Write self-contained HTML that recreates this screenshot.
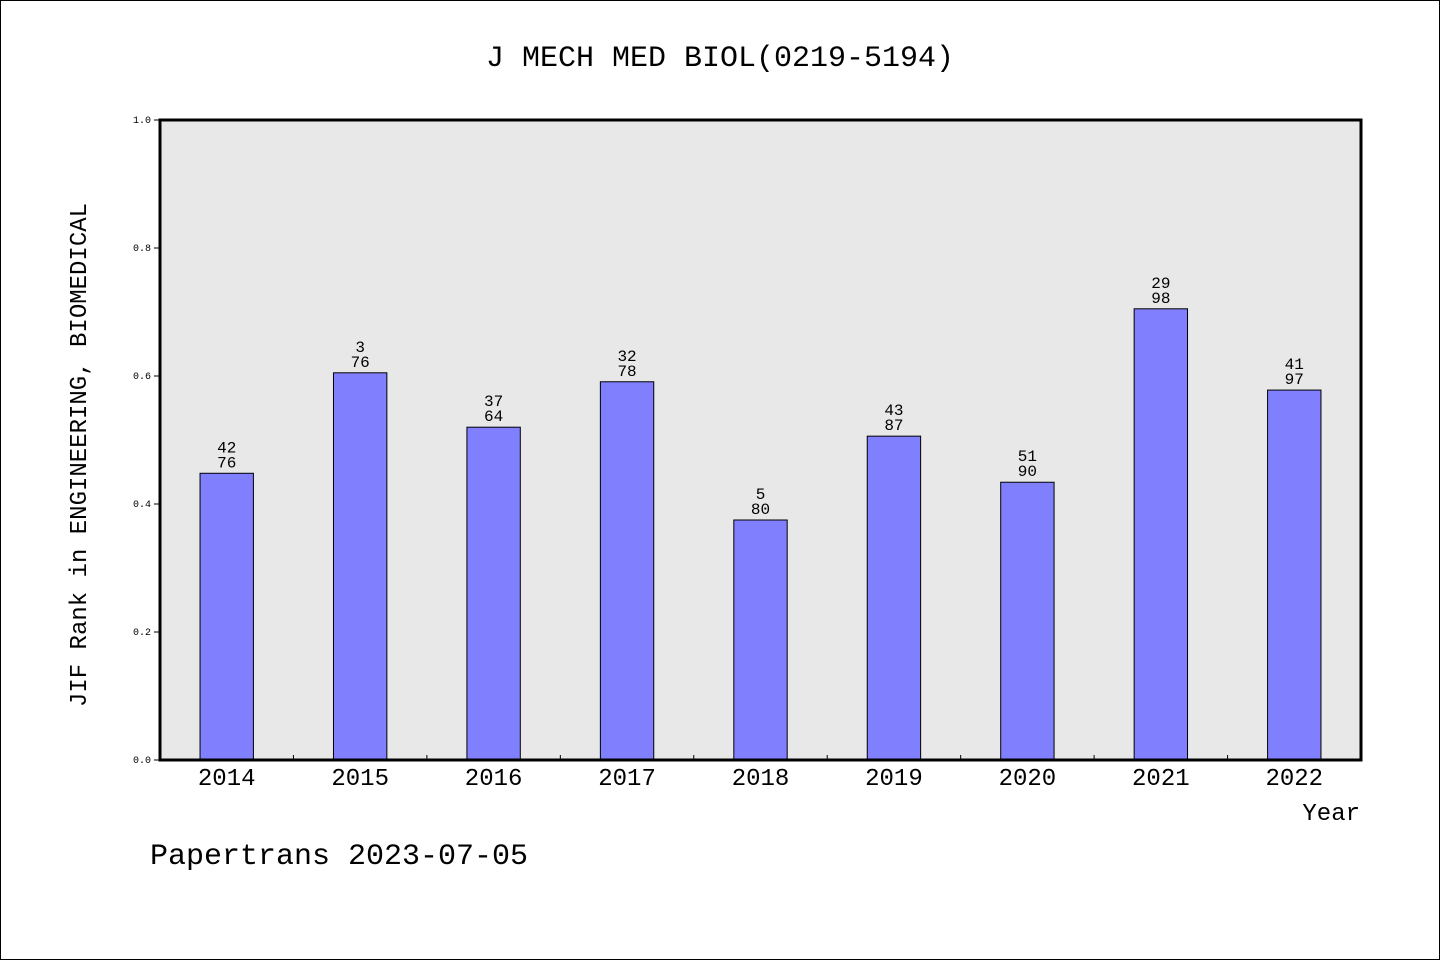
<!DOCTYPE html>
<html><head><meta charset="utf-8"><style>
body{margin:0;background:#fff}
svg{display:block}
text{font-family:"WenQuanYi Zen Hei","Liberation Mono",monospace;fill:#000}
</style></head><body>
<svg width="1440" height="960">
<rect x="0.5" y="0.5" width="1439" height="959" fill="#fff" stroke="#000"/>
<text x="720" y="66" font-size="30" text-anchor="middle">J MECH MED BIOL(0219-5194)</text>
<rect x="160" y="120" width="1201" height="640" fill="#e8e8e8"/>
<g id="bars"></g>
<rect x="160" y="120" width="1201" height="640" fill="none" stroke="#000" stroke-width="3"/>
<g id="axes"></g>
<text transform="translate(86,455) rotate(-90)" font-size="24" text-anchor="middle">JIF Rank in ENGINEERING, BIOMEDICAL</text>
<text x="1360" y="820" font-size="24" text-anchor="end">Year</text>
<text x="150" y="864" font-size="30">Papertrans 2023-07-05</text>
</svg>
<script>
const years=["2014","2015","2016","2017","2018","2019","2020","2021","2022"];
const values=[0.448,0.605,0.520,0.591,0.375,0.506,0.434,0.705,0.578];
const ranks=["42","3","37","32","5","43","51","29","41"];
const totals=["76","76","64","78","80","87","90","98","97"];
const yTicks=[0,0.2,0.4,0.6,0.8,1.0];
const NS="http://www.w3.org/2000/svg";
const X0=160,W=1201,Y0=760,H=640;
const slot=W/years.length;
const xs=i=>X0+slot*(i+0.5);
const ys=v=>Y0-v*H;
function mk(tag,attrs,parent){const e=document.createElementNS(NS,tag);for(const k in attrs)e.setAttribute(k,attrs[k]);parent.appendChild(e);return e;}
const bars=document.getElementById('bars'),axes=document.getElementById('axes');
const bw=slot*0.4;
years.forEach((y,i)=>{
 const r=mk('rect',{x:xs(i)-bw/2,y:ys(values[i]),width:bw,height:Y0-ys(values[i]),fill:'#8080ff',stroke:'#000','stroke-width':1},bars);
 
 
 const t1=mk('text',{x:xs(i),y:ys(values[i])-21,'font-size':16,'text-anchor':'middle'},bars);t1.textContent=ranks[i];
 
 
 const t2=mk('text',{x:xs(i),y:ys(values[i])-6,'font-size':16,'text-anchor':'middle'},bars);t2.textContent=totals[i];
 
 
 const xl=mk('text',{x:xs(i),y:785,'font-size':24,'text-anchor':'middle'},axes);xl.textContent=y;
 
 
 if(i>0){const tk=mk('line',{x1:X0+slot*i,x2:X0+slot*i,y1:Y0,y2:Y0-5,stroke:'#000'},axes);
 
 }
});
yTicks.forEach(v=>{
 const l=mk('line',{x1:X0-6,x2:X0,y1:ys(v),y2:ys(v),stroke:'#000'},axes);
 
 
 const t=mk('text',{x:X0-9,y:ys(v)+3,'font-size':10,'text-anchor':'end'},axes);t.textContent=v.toFixed(1);
 
 
});
</script>
</body></html>
